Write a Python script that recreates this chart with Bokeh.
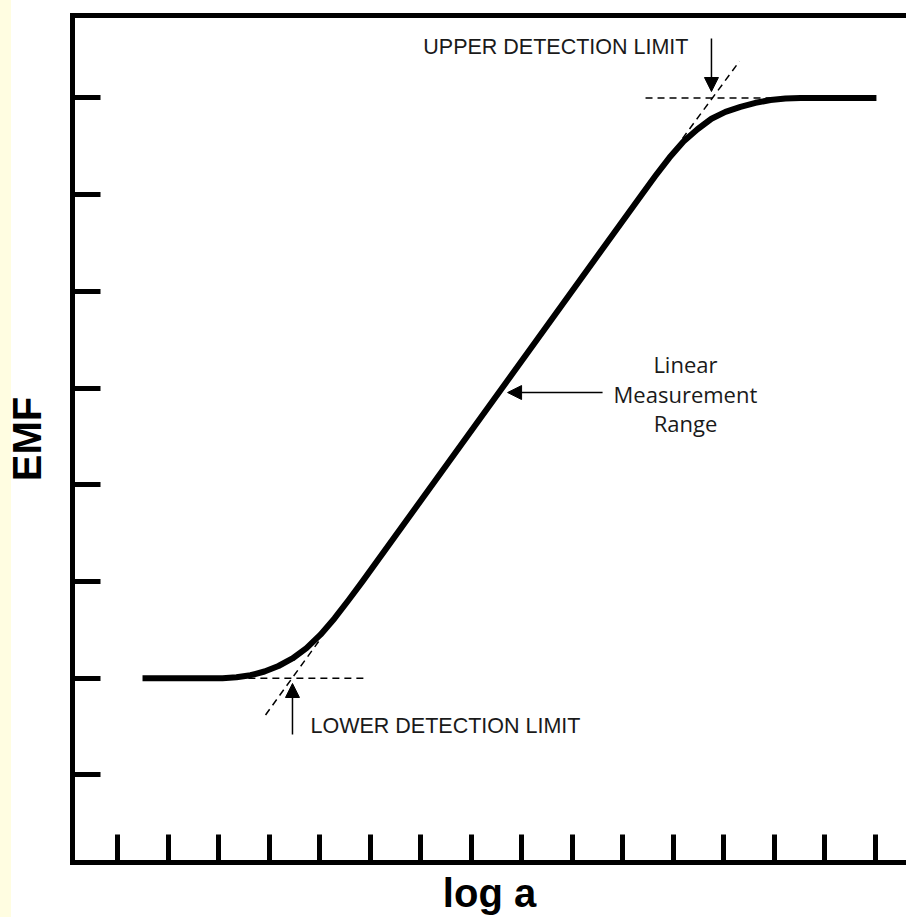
from bokeh.plotting import figure
from bokeh.models import Range1d, FixedTicker, LinearAxis, Arrow, NormalHead, ColumnDataSource
from bokeh.core.properties import value
from bokeh.embed import file_html
from bokeh.resources import INLINE

# ---- data (in axis units: x ticks 1..16, y ticks 1..8) ----
x_ticks = list(range(1, 17))
y_ticks = list(range(1, 9))

curve_x = [1.495, 3.078, 3.355, 3.632, 3.909, 4.186, 4.463, 4.740, 5.017, 5.294, 5.571, 5.849,
           11.370, 11.647, 11.924, 12.201, 12.478, 12.755, 13.032, 13.329, 13.626, 13.923,
           14.220, 14.517, 16.020]
curve_y = [2.000, 2.000, 2.009, 2.031, 2.069, 2.126, 2.204, 2.311, 2.450, 2.618, 2.806, 3.001,
           6.998, 7.195, 7.384, 7.549, 7.677, 7.785, 7.857, 7.909, 7.950, 7.979,
           7.994, 8.000, 8.000]

# tangent / asymptote dashed guides
guide_xs = [[3.59, 5.91], [3.93, 4.98], [11.45, 13.92], [12.18, 13.31]]
guide_ys = [[2.00, 2.00], [1.62, 2.38], [8.00, 8.00], [7.58, 8.38]]

# arrows
arrow_x0 = [12.755, 4.463, 10.60]
arrow_y0 = [8.615, 1.418, 4.954]
arrow_x1 = [12.755, 4.463, 8.72]
arrow_y1 = [8.067, 1.945, 4.954]

# annotation texts
upper_text = ["UPPER DETECTION LIMIT"]
upper_x = [12.30]
upper_y = [8.53]
lower_text = ["LOWER DETECTION LIMIT"]
lower_x = [4.82]
lower_y = [1.51]
range_text = ["Linear", "Measurement", "Range"]
range_x = [12.24, 12.24, 12.24]
range_y = [5.246, 4.936, 4.636]

x_label = "log a"
y_label = "EMF"

# ---- figure ----
p = figure(width=906, height=917, output_backend="svg", toolbar_location=None,
           x_range=Range1d(0.1094, 16.615), y_range=Range1d(0.0941, 8.853),
           min_border_left=72, min_border_right=0, min_border_top=15, min_border_bottom=55,
           x_axis_label=x_label, y_axis_label=y_label)
p.outline_line_color = None
p.xgrid.visible = False
p.ygrid.visible = False
p.background_fill_color = None
p.border_fill_color = None
p.styles = {"background": "linear-gradient(90deg, #FFFDE1 0px, #FFFDE1 11px, #FFFFFF 11px, #FFFFFF 100%)"}

for ax in [p.xaxis[0], p.yaxis[0]]:
    ax.axis_line_width = 5
    ax.axis_line_color = "black"
    ax.axis_line_cap = "square"
    ax.major_tick_line_width = 5
    ax.major_tick_line_color = "black"
    ax.major_tick_in = 28
    ax.major_tick_out = 0
    ax.minor_tick_line_color = None
    ax.major_label_text_color = None
    ax.major_label_text_font_size = "1px"
    ax.major_label_standoff = 0
    ax.axis_label_text_font = "Liberation Sans"
    ax.axis_label_text_font_style = "bold"
    ax.axis_label_text_font_size = "40px"
    ax.axis_label_text_color = "black"

p.xaxis.ticker = FixedTicker(ticks=x_ticks)
p.yaxis.ticker = FixedTicker(ticks=y_ticks)
p.xaxis.axis_label_standoff = 8
p.yaxis.axis_label_standoff = 24

top = LinearAxis(ticker=FixedTicker(ticks=[]), axis_line_width=5, axis_line_color="black",
                 axis_line_cap="square", major_tick_in=0, major_tick_out=0,
                 minor_tick_line_color=None, major_label_text_color=None,
                 major_label_text_font_size="1px", major_label_standoff=0)
p.add_layout(top, "above")

# dashed guides
p.multi_line(xs=guide_xs, ys=guide_ys, line_color="black", line_width=1.5, line_dash="7 5")

# response curve
p.line(curve_x, curve_y, line_color="black", line_width=6, line_join="round")

# arrows
asrc = ColumnDataSource(dict(x0=arrow_x0, y0=arrow_y0, x1=arrow_x1, y1=arrow_y1))
p.add_layout(Arrow(end=NormalHead(size=14, fill_color="black", line_color="black", line_width=1),
                   x_start="x0", y_start="y0", x_end="x1", y_end="y1",
                   line_width=1.5, line_color="black", source=asrc))

# texts
p.text(x=upper_x, y=upper_y, text=upper_text, text_align="right", text_baseline="alphabetic",
       text_font=value("Liberation Sans"), text_font_size="21.5px", text_color="#1a1a1a")
p.text(x=lower_x, y=lower_y, text=lower_text, text_align="left", text_baseline="alphabetic",
       text_font=value("Liberation Sans"), text_font_size="21.5px", text_color="#1a1a1a")
p.text(x=range_x, y=range_y, text=range_text, text_align="center", text_baseline="alphabetic",
       text_font=value("Open Sans"), text_font_size="22px", text_color="#1a1a1a")

open("out.html", "w").write(file_html(p, INLINE))
